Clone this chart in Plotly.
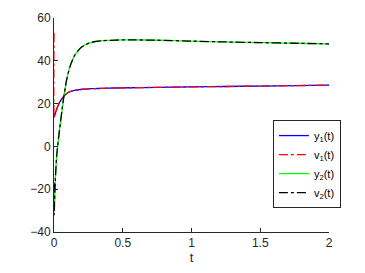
import plotly.graph_objects as go

t = [0, 0.001, 0.01, 0.02, 0.04, 0.068, 0.09, 0.116, 0.15, 0.19, 0.21, 0.25, 0.29, 0.35, 0.45, 0.55, 0.75, 1.0, 1.25, 1.5, 1.75, 2.0]
y1 = [13.5, 13.8, 15.5, 17.5, 20.5, 23.2, 24.6, 25.6, 26.2, 26.6, 26.7, 26.9, 27.0, 27.1, 27.3, 27.4, 27.6, 27.8, 28.0, 28.2, 28.4, 28.6]
v1 = [53.0, 13.8, 15.5, 17.5, 20.5, 23.2, 24.6, 25.6, 26.2, 26.6, 26.7, 26.9, 27.0, 27.1, 27.3, 27.4, 27.6, 27.8, 28.0, 28.2, 28.4, 28.6]
y2 = [-30.0, -28.5, -15.0, -4.0, 7.7, 21.7, 30.5, 37.3, 42.5, 45.8, 46.8, 48.1, 48.9, 49.4, 49.7, 49.8, 49.6, 49.2, 48.8, 48.5, 48.2, 47.9]
v2 = [-17.0, -32.0, -15.0, -4.0, 7.7, 21.7, 30.5, 37.3, 42.5, 45.8, 46.8, 48.1, 48.9, 49.4, 49.7, 49.8, 49.6, 49.2, 48.8, 48.5, 48.2, 47.9]

x_ticks = [0, 0.5, 1, 1.5, 2]
x_tick_labels = ["0", "0.5", "1", "1.5", "2"]
y_ticks = [-40, -20, 0, 20, 40, 60]

fig = go.Figure()
fig.add_trace(go.Scatter(x=t, y=y1, mode="lines", name="y<sub>1</sub>(t)",
                         line=dict(color="#0000ff", width=1.3, shape="spline", smoothing=0.4)))
fig.add_trace(go.Scatter(x=t, y=v1, mode="lines", name="v<sub>1</sub>(t)",
                         line=dict(color="#ff0000", width=1.3, dash="dashdot", shape="spline", smoothing=0.4)))
fig.add_trace(go.Scatter(x=t, y=y2, mode="lines", name="y<sub>2</sub>(t)",
                         line=dict(color="#00ff00", width=1.3, shape="spline", smoothing=0.4)))
fig.add_trace(go.Scatter(x=t, y=v2, mode="lines", name="v<sub>2</sub>(t)",
                         line=dict(color="#000000", width=1.3, dash="dashdot", shape="spline", smoothing=0.4)))

axis_common = dict(showgrid=False, zeroline=False, showline=True, linecolor="#262626",
                   linewidth=1, ticks="inside", ticklen=4, tickcolor="#262626", automargin=False,
                   tickfont=dict(family="Liberation Sans, Arial", size=12, color="#262626"))
fig.update_xaxes(range=[0, 2], tickvals=x_ticks, ticktext=x_tick_labels,
                 title=dict(text="t", font=dict(family="Liberation Sans, Arial", size=13, color="#262626"), standoff=2),
                 **axis_common)
fig.update_yaxes(range=[-40, 60], tickvals=y_ticks, **axis_common)

fig.update_layout(
    width=365, height=273,
    margin=dict(l=54, r=36, t=18, b=41),
    paper_bgcolor="white", plot_bgcolor="white",
    showlegend=True,
    legend=dict(x=0.796, y=0.523, xanchor="left", yanchor="top",
                bordercolor="#262626", borderwidth=1, bgcolor="white",
                font=dict(family="Liberation Sans, Arial", size=11, color="#000000"),
                tracegroupgap=0, itemwidth=30),
)

fig.write_html("out.html", config={"displayModeBar": False},
               post_script="document.body.style.margin='0';document.body.style.overflow='hidden';")
